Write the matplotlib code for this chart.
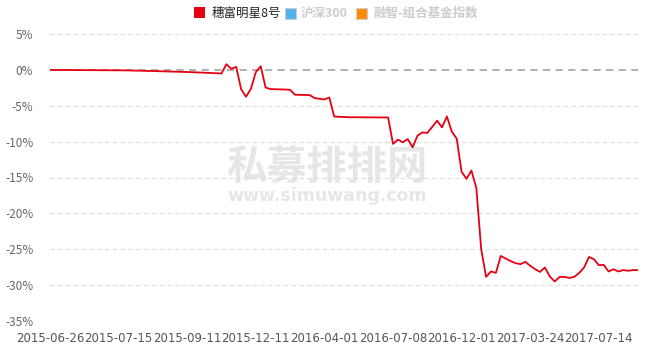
import matplotlib
matplotlib.use("Agg")
from matplotlib import pyplot as plt
from matplotlib.patches import Rectangle
import numpy as np

plt.rcParams['font.family'] = ['Noto Sans CJK SC', 'DejaVu Sans']

# cumulative return (%) per observation, 121 points
fund = [
    0.00, -0.01, -0.01, -0.02, -0.02, -0.03, -0.03, -0.03, -0.04, -0.04,
    -0.05, -0.05, -0.05, -0.06, -0.06, -0.07, -0.08, -0.10, -0.11, -0.13,
    -0.15, -0.16, -0.18, -0.20, -0.22, -0.24, -0.26, -0.28, -0.30, -0.32,
    -0.35, -0.38, -0.41, -0.44, -0.47, -0.51, 0.79, 0.14, 0.42, -2.68,
    -3.75, -2.64, -0.32, 0.51, -2.46, -2.68, -2.70, -2.72, -2.74, -2.78,
    -3.47, -3.48, -3.50, -3.51, -3.93, -4.03, -4.12, -3.85, -6.50, -6.54,
    -6.57, -6.60, -6.60, -6.61, -6.61, -6.62, -6.62, -6.63, -6.63, -6.63,
    -10.32, -9.72, -10.10, -9.63, -10.79, -9.17, -8.71, -8.79, -7.95, -7.08,
    -8.01, -6.49, -8.61, -9.58, -14.21, -15.18, -14.03, -16.43, -25.00, -28.85,
    -28.10, -28.29, -25.93, -26.30, -26.65, -26.94, -27.08, -26.76, -27.30, -27.78,
    -28.15, -27.54, -28.79, -29.49, -28.85, -28.85, -29.00, -28.85, -28.30, -27.54,
    -26.07, -26.39, -27.22, -27.18, -28.10, -27.78, -28.10, -27.90, -28.00, -27.90,
    -27.92,
]
tick_labels = ["2015-06-26", "2015-07-15", "2015-09-11", "2015-12-11", "2016-04-01",
               "2016-07-08", "2016-12-01", "2017-03-24", "2017-07-14"]
tick_step = 14
legend_names = ["穗富明星8号", "沪深300", "融智-组合基金指数"]
legend_colors = ["#e60012", "#4fb3e8", "#ff8c00"]
yticks = [5, 0, -5, -10, -15, -20, -25, -30, -35]

fig = plt.figure(figsize=(6.57, 3.57), dpi=100)
ax = fig.add_axes([50 / 657, 1 - 321 / 357, 588 / 657, 287 / 357])

x = np.arange(len(fund))
ax.set_xlim(0, len(fund) - 1)
ax.set_ylim(-35, 5)

for v in yticks:
    if v == 0:
        ax.axhline(v, color="#aaaaaa", lw=1.3, ls=(0, (4, 3)), zorder=1)
    else:
        ax.axhline(v, color="#dddddd", lw=0.8, ls=(0, (4, 3)), zorder=1)

# watermark
ax.text(0.471, 0.537, "私募排排网", transform=ax.transAxes, ha="center", va="center",
        fontsize=29, fontweight="bold", color="#e6e6e6", zorder=0)
ax.text(0.471, 0.436, "www.simuwang.com", transform=ax.transAxes,
        ha="center", va="center", fontsize=12.5, fontweight="bold", color="#e6e6e6",
        family="DejaVu Sans", zorder=0)

ax.plot(x, fund, color="#e60012", lw=1.3, zorder=3)

ax.set_yticks(yticks)
ax.set_yticklabels([f"{v}%" for v in yticks])
ax.set_xticks(np.arange(len(tick_labels)) * tick_step)
ax.set_xticklabels(tick_labels, family="DejaVu Sans")
ax.tick_params(axis="y", length=0, pad=12, labelsize=8.5, labelcolor="#666666")
ax.tick_params(axis="x", length=0, pad=8, labelsize=8.5, labelcolor="#555555")
for s in ax.spines.values():
    s.set_visible(False)

# legend
sq = [(194, 7), (285, 8), (356, 8)]
tx = [212, 301, 373]
for i, name in enumerate(legend_names):
    x0, y0 = sq[i]
    ec = legend_colors[i] if i == 0 else "#cccccc"
    fig.patches.append(Rectangle((x0 / 657, 1 - (y0 + 11) / 357), 11 / 657, 11 / 357,
                                 transform=fig.transFigure, facecolor=legend_colors[i],
                                 edgecolor=ec, lw=0.8 if i else 0))
    fig.text(tx[i] / 657, 1 - 13.5 / 357, name, ha="left", va="center", fontsize=9,
             color="#222222" if i == 0 else "#cccccc",
             fontweight="normal" if i == 0 else "bold")

fig.savefig("out.png", dpi=100)
